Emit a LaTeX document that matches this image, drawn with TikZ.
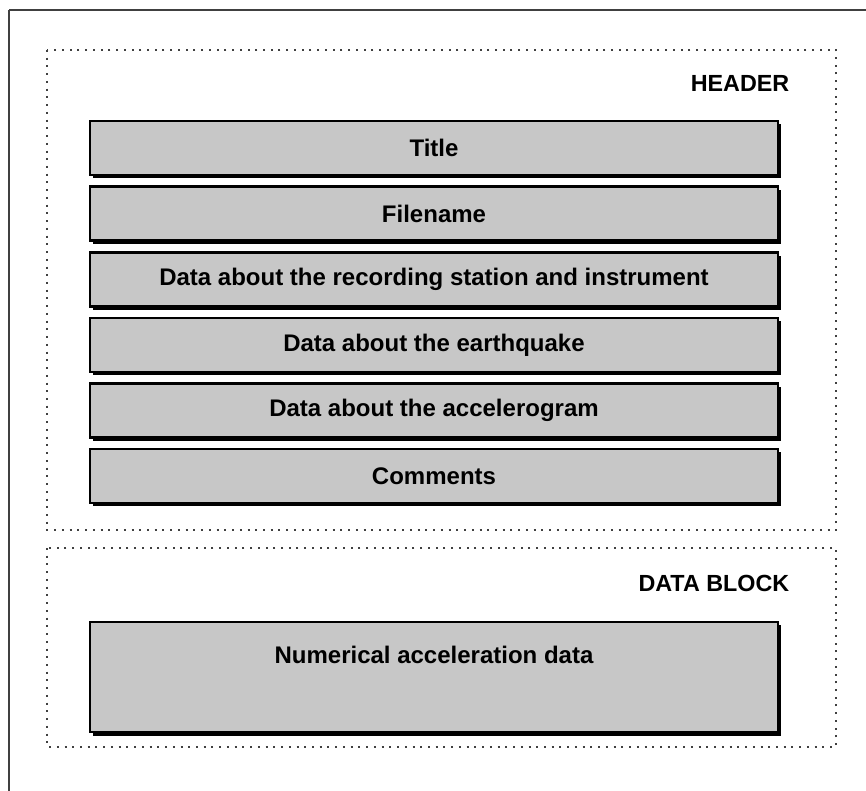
\documentclass[tikz,border=0pt]{standalone}
\usepackage{fontspec}
\setmainfont{Liberation Sans}
\usetikzlibrary{shadows}
\begin{document}
\begin{tikzpicture}[x=0.75pt,y=-0.75pt,
	field/.style={draw=black,line width=1.6pt,fill=black!22,
		minimum width=516pt,minimum height=40.5pt,
		font=\bfseries\fontsize{18}{21}\selectfont,
		drop shadow={shadow xshift=2.6pt,shadow yshift=-2.6pt,opacity=1,fill=black}},
	block/.style={draw=black!75,line width=1.7pt,dash pattern=on 1.5pt off 4.3pt},
	tag/.style={anchor=east,font=\bfseries\fontsize{17.5}{20}\selectfont}]
			\useasboundingbox (0,0) rectangle (866,791);
			\coordinate (corner) at (9,10);
			\draw[black!75,line width=1.5pt] (corner) -- +(0,900);
			\draw[black!75,line width=1.5pt] (corner) -- +(900,0);

			% header part
			\draw[block] (47,50) rectangle (836,530);
			\node[tag] (header) at (794,83) {HEADER};

			\node[field] (title) at (434,148) {Title};
			\node[field] (fname) at (434,213.5) {Filename};
			\node[field] (station) at (434,279.5) {Data about the recording station and instrument};
			\node[field] (quake) at (434,345) {Data about the earthquake};
			\node[field] (accel) at (434,410.5) {Data about the accelerogram};
			\node[field] (comments) at (434,476) {Comments};

			% data part
			\draw[block] (47,548) rectangle (836,747);
			\node[tag] (datablock) at (794,583) {DATA BLOCK};

			\node[field,minimum height=83pt,text height=13pt,text depth=34pt] (numdata) at (434,677) {Numerical acceleration data};
		    \end{tikzpicture}
\end{document}
